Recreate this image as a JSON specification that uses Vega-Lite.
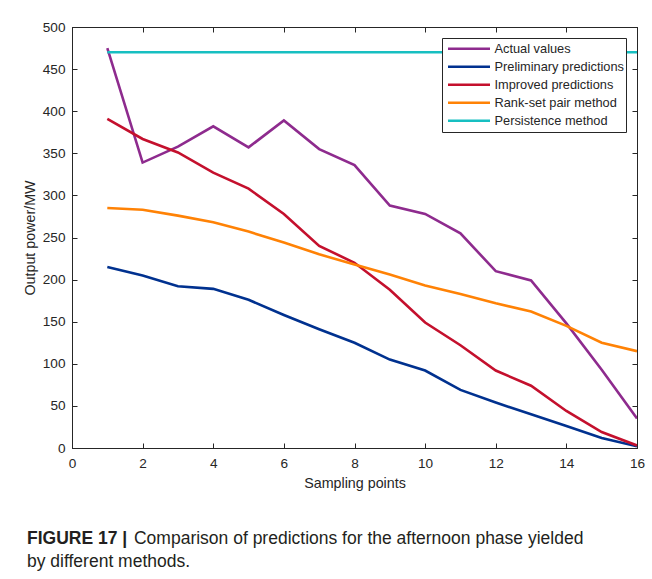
{
  "$schema": "https://vega.github.io/schema/vega-lite/v6.json",
  "autosize": "none",
  "width": 565,
  "height": 421,
  "padding": {"left": 72, "top": 27, "right": 15, "bottom": 131},
  "background": "white",
  "config": {
    "font": "Liberation Sans",
    "view": {"stroke": "#262626", "strokeWidth": 1},
    "axis": {
      "grid": false,
      "domainColor": "#262626",
      "tickColor": "#262626",
      "tickSize": -5,
      "labelColor": "#262626",
      "labelFontSize": 13.6,
      "labelFont": "Liberation Sans",
      "titleFont": "Liberation Sans",
      "titleFontSize": 14.3,
      "titleFontWeight": "normal",
      "titleColor": "#262626",
      "labelFlush": false,
      "labelOverlap": false
    },
    "legend": {
      "orient": "top-right",
      "offset": 11,
      "strokeColor": "#262626",
      "fillColor": "white",
      "padding": 2,
      "symbolOffset": 2.5,
      "symbolType": "stroke",
      "symbolStrokeWidth": 2.5,
      "symbolSize": 1764,
      "clipHeight": 17.5,
      "labelFontSize": 12.8,
      "labelFont": "Liberation Sans",
      "labelColor": "#262626",
      "labelOffset": 3,
      "rowPadding": 0,
      "title": null
    }
  },
  "title": {
    "text": "FIGURE 17 |",
    "orient": "bottom",
    "anchor": "start",
    "frame": "group",
    "dx": -45,
    "offset": 39,
    "font": "Liberation Sans",
    "fontSize": 17.5,
    "fontWeight": "bold",
    "color": "#231f20",
    "subtitle": ["\u200b\u00a0\u00a0\u00a0\u00a0\u00a0\u00a0\u00a0\u00a0\u00a0\u00a0\u00a0\u00a0\u00a0\u00a0\u00a0\u00a0\u00a0\u00a0\u00a0\u00a0\u00a0\u00a0Comparison of predictions for the afternoon phase yielded", "by different methods."],
    "subtitleFont": "Liberation Sans",
    "subtitleFontSize": 17.5,
    "subtitleFontWeight": "normal",
    "subtitleColor": "#231f20",
    "subtitleLineHeight": 23,
    "subtitlePadding": -17.5
  },
  "data": {
    "values": [
      {"series": "Actual values", "x": 1, "y": 475},
      {"series": "Actual values", "x": 2, "y": 339},
      {"series": "Actual values", "x": 3, "y": 358},
      {"series": "Actual values", "x": 4, "y": 382},
      {"series": "Actual values", "x": 5, "y": 357},
      {"series": "Actual values", "x": 6, "y": 389},
      {"series": "Actual values", "x": 7, "y": 355},
      {"series": "Actual values", "x": 8, "y": 336},
      {"series": "Actual values", "x": 9, "y": 288},
      {"series": "Actual values", "x": 10, "y": 278},
      {"series": "Actual values", "x": 11, "y": 255},
      {"series": "Actual values", "x": 12, "y": 210},
      {"series": "Actual values", "x": 13, "y": 199},
      {"series": "Actual values", "x": 14, "y": 148},
      {"series": "Actual values", "x": 15, "y": 93},
      {"series": "Actual values", "x": 16, "y": 35},
      {"series": "Preliminary predictions", "x": 1, "y": 215},
      {"series": "Preliminary predictions", "x": 2, "y": 205},
      {"series": "Preliminary predictions", "x": 3, "y": 192},
      {"series": "Preliminary predictions", "x": 4, "y": 189},
      {"series": "Preliminary predictions", "x": 5, "y": 176},
      {"series": "Preliminary predictions", "x": 6, "y": 158},
      {"series": "Preliminary predictions", "x": 7, "y": 141},
      {"series": "Preliminary predictions", "x": 8, "y": 125},
      {"series": "Preliminary predictions", "x": 9, "y": 105},
      {"series": "Preliminary predictions", "x": 10, "y": 92},
      {"series": "Preliminary predictions", "x": 11, "y": 69},
      {"series": "Preliminary predictions", "x": 12, "y": 54},
      {"series": "Preliminary predictions", "x": 13, "y": 40},
      {"series": "Preliminary predictions", "x": 14, "y": 26},
      {"series": "Preliminary predictions", "x": 15, "y": 12},
      {"series": "Preliminary predictions", "x": 16, "y": 2},
      {"series": "Improved predictions", "x": 1, "y": 391},
      {"series": "Improved predictions", "x": 2, "y": 367},
      {"series": "Improved predictions", "x": 3, "y": 351},
      {"series": "Improved predictions", "x": 4, "y": 327},
      {"series": "Improved predictions", "x": 5, "y": 308},
      {"series": "Improved predictions", "x": 6, "y": 278},
      {"series": "Improved predictions", "x": 7, "y": 240},
      {"series": "Improved predictions", "x": 8, "y": 220},
      {"series": "Improved predictions", "x": 9, "y": 188},
      {"series": "Improved predictions", "x": 10, "y": 149},
      {"series": "Improved predictions", "x": 11, "y": 122},
      {"series": "Improved predictions", "x": 12, "y": 92},
      {"series": "Improved predictions", "x": 13, "y": 74},
      {"series": "Improved predictions", "x": 14, "y": 44},
      {"series": "Improved predictions", "x": 15, "y": 19},
      {"series": "Improved predictions", "x": 16, "y": 3},
      {"series": "Rank-set pair method", "x": 1, "y": 285},
      {"series": "Rank-set pair method", "x": 2, "y": 283},
      {"series": "Rank-set pair method", "x": 3, "y": 276},
      {"series": "Rank-set pair method", "x": 4, "y": 268},
      {"series": "Rank-set pair method", "x": 5, "y": 257},
      {"series": "Rank-set pair method", "x": 6, "y": 244},
      {"series": "Rank-set pair method", "x": 7, "y": 230},
      {"series": "Rank-set pair method", "x": 8, "y": 218},
      {"series": "Rank-set pair method", "x": 9, "y": 206},
      {"series": "Rank-set pair method", "x": 10, "y": 193},
      {"series": "Rank-set pair method", "x": 11, "y": 183},
      {"series": "Rank-set pair method", "x": 12, "y": 172},
      {"series": "Rank-set pair method", "x": 13, "y": 162},
      {"series": "Rank-set pair method", "x": 14, "y": 145},
      {"series": "Rank-set pair method", "x": 15, "y": 125},
      {"series": "Rank-set pair method", "x": 16, "y": 115},
      {"series": "Persistence method", "x": 1, "y": 470},
      {"series": "Persistence method", "x": 2, "y": 470},
      {"series": "Persistence method", "x": 3, "y": 470},
      {"series": "Persistence method", "x": 4, "y": 470},
      {"series": "Persistence method", "x": 5, "y": 470},
      {"series": "Persistence method", "x": 6, "y": 470},
      {"series": "Persistence method", "x": 7, "y": 470},
      {"series": "Persistence method", "x": 8, "y": 470},
      {"series": "Persistence method", "x": 9, "y": 470},
      {"series": "Persistence method", "x": 10, "y": 470},
      {"series": "Persistence method", "x": 11, "y": 470},
      {"series": "Persistence method", "x": 12, "y": 470},
      {"series": "Persistence method", "x": 13, "y": 470},
      {"series": "Persistence method", "x": 14, "y": 470},
      {"series": "Persistence method", "x": 15, "y": 470},
      {"series": "Persistence method", "x": 16, "y": 470}
    ]
  },
  "resolve": {"axis": {"x": "independent", "y": "independent"}},
  "layer": [
    {
      "mark": {"type": "line", "strokeWidth": 2.6, "clip": true},
      "encoding": {
        "x": {
          "field": "x", "type": "quantitative",
          "scale": {"domain": [0, 16], "nice": false},
          "axis": {"title": "Sampling points", "values": [0, 2, 4, 6, 8, 10, 12, 14, 16], "labelPadding": 13, "titlePadding": 7}
        },
        "y": {
          "field": "y", "type": "quantitative",
          "scale": {"domain": [0, 500], "nice": false},
          "axis": {"title": "Output power/MW", "values": [0, 50, 100, 150, 200, 250, 300, 350, 400, 450, 500], "labelPadding": 12, "titlePadding": 5}
        },
        "color": {
          "field": "series", "type": "nominal",
          "scale": {
            "domain": ["Actual values", "Preliminary predictions", "Improved predictions", "Rank-set pair method", "Persistence method"],
            "range": ["#8E2B8E", "#00318F", "#C4102D", "#FF8205", "#17BFC1"]
          },
          "legend": {}
        }
      }
    },
    {
      "mark": {"type": "line", "opacity": 0},
      "encoding": {
        "x": {
          "field": "x", "type": "quantitative",
          "axis": {"orient": "top", "title": null, "labels": false, "values": [0, 2, 4, 6, 8, 10, 12, 14, 16]}
        },
        "y": {
          "field": "y", "type": "quantitative",
          "axis": {"orient": "right", "title": null, "labels": false, "values": [0, 50, 100, 150, 200, 250, 300, 350, 400, 450, 500]}
        },
        "detail": {"field": "series"}
      }
    }
  ]
}
